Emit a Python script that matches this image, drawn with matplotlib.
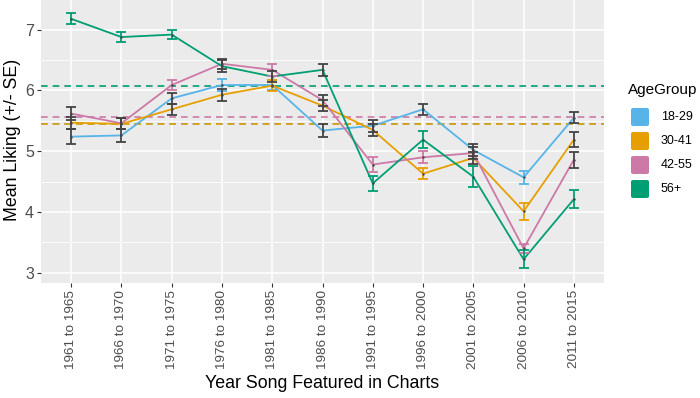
import numpy as np
import matplotlib
matplotlib.use("Agg")
import matplotlib.pyplot as plt
from matplotlib.patches import FancyBboxPatch

plt.rcParams['font.family'] = ['Liberation Sans', 'DejaVu Sans']

# Data
periods = ['1961 to 1965', '1966 to 1970', '1971 to 1975', '1976 to 1980',
           '1981 to 1985', '1986 to 1990', '1991 to 1995', '1996 to 2000',
           '2001 to 2005', '2006 to 2010', '2011 to 2015']
groups = ['18-29', '30-41', '42-55', '56+']
colors = ['#56B4E9', '#E69F00', '#CC79A7', '#009E73']

mean_1829 = [5.24, 5.26, 5.87, 6.09, 6.09, 5.34, 5.42, 5.69, 5.02, 4.57, 5.55]
mean_3041 = [5.47, 5.45, 5.69, 5.93, 6.08, 5.75, 5.35, 4.63, 4.89, 4.01, 5.19]
mean_4255 = [5.62, 5.46, 6.09, 6.44, 6.34, 5.84, 4.78, 4.90, 4.97, 3.40, 4.86]
mean_56 = [7.18, 6.88, 6.92, 6.40, 6.23, 6.34, 4.47, 5.19, 4.58, 3.22, 4.21]

se_1829 = [0.12, 0.10, 0.09, 0.10, 0.09, 0.10, 0.10, 0.09, 0.10, 0.11, 0.09]
se_3041 = [0.10, 0.09, 0.09, 0.10, 0.09, 0.09, 0.10, 0.09, 0.10, 0.14, 0.12]
se_4255 = [0.10, 0.09, 0.09, 0.08, 0.10, 0.09, 0.12, 0.10, 0.10, 0.08, 0.13]
se_56 = [0.09, 0.085, 0.08, 0.095, 0.09, 0.10, 0.13, 0.14, 0.17, 0.15, 0.145]

# error bars drawn in dark grey instead of the group colour
dark_1829 = [1, 1, 1, 0, 0, 1, 1, 1, 1, 0, 1]
dark_3041 = [1, 1, 1, 1, 0, 1, 1, 0, 1, 0, 1]
dark_4255 = [1, 1, 0, 1, 0, 1, 0, 0, 1, 0, 1]
dark_56 = [0, 0, 0, 1, 1, 1, 0, 0, 0, 0, 0]

overall = [5.44, 5.45, 5.56, 6.08]

means = [mean_1829, mean_3041, mean_4255, mean_56]
ses = [se_1829, se_3041, se_4255, se_56]
darks = [dark_1829, dark_3041, dark_4255, dark_56]

fig = plt.figure(figsize=(7, 3.98), dpi=100)
ax = fig.add_axes([41 / 700, 1 - 283 / 398, (604 - 41) / 700, 283 / 398])
ax.set_facecolor('#EBEBEB')
for s in ax.spines.values():
    s.set_visible(False)

x = np.arange(len(periods))

for g in range(4):
    ax.axhline(overall[g], color=colors[g], lw=1.2, ls=(0, (4, 3)), zorder=2)

for g in range(4):
    m = np.array(means[g])
    e = np.array(ses[g])
    ax.plot(x, m, color=colors[g], lw=1.3, zorder=3)
    ax.scatter(x, m, s=3, color='#444444', zorder=5, linewidths=0)
    for i in range(len(x)):
        c = '#444444' if darks[g][i] else colors[g]
        ax.errorbar(x[i], m[i], yerr=e[i], fmt='none', ecolor=c,
                    elinewidth=1.3, capsize=3.5, capthick=1.3, zorder=4)

ax.set_xlim(-0.6, len(periods) - 0.4)
ax.set_ylim(2.83, 7.49)
ax.set_yticks([3, 4, 5, 6, 7])
ax.set_yticks([3.5, 4.5, 5.5, 6.5], minor=True)
ax.set_xticks(x)
ax.set_xticklabels(periods, rotation=90)
ax.grid(which='major', color='white', lw=1.1, zorder=0)
ax.grid(which='minor', axis='y', color='white', lw=0.6, zorder=0)
ax.set_axisbelow(True)
ax.tick_params(which='major', length=3, color='#333333', labelcolor='#4D4D4D',
               labelsize=9.7, pad=2)
ax.tick_params(which='minor', length=0)
ax.tick_params(axis='y', labelsize=11.5)

fig.text(13 / 700, 1 - 140 / 398, 'Mean Liking (+/- SE)', rotation=90,
         ha='center', va='center', fontsize=12.8)
fig.text(322 / 700, 1 - 383 / 398, 'Year Song Featured in Charts',
         ha='center', va='center', fontsize=12.8)

# legend
fig.text(628 / 700, 1 - 90 / 398, 'AgeGroup', ha='left', va='center', fontsize=11)
for g in range(4):
    cy = 117 + 24 * g
    fig.patches.append(FancyBboxPatch((631 / 700, 1 - (cy + 9) / 398), 18 / 700, 18 / 398,
                                      boxstyle='round,pad=0,rounding_size=0.004',
                                      transform=fig.transFigure, facecolor=colors[g],
                                      edgecolor='none'))
    fig.text(661 / 700, 1 - cy / 398, groups[g], ha='left', va='center', fontsize=9)

fig.savefig('out.png', dpi=100)
